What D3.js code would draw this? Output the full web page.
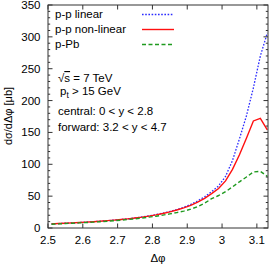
<!DOCTYPE html>
<html><head><meta charset="utf-8">
<script src="https://cdn.jsdelivr.net/npm/d3@7"></script>
<style>body{margin:0;background:#fff}svg{display:block}text{font-family:"Liberation Sans",Arial,sans-serif;fill:#000}</style>
</head><body><svg id="c" width="271" height="266"></svg>
<script>
const phi = [2.51,2.53,2.55,2.57,2.59,2.61,2.63,2.65,2.67,2.69,2.71,2.73,2.75,2.77,2.79,2.81,2.83,2.85,2.87,2.89,2.91,2.93,2.95,2.97,2.99,3.01,3.03,3.05,3.07,3.09,3.11,3.13];
const ppLinear = [6.5,7.0,7.5,8.0,8.6,9.2,9.9,10.7,11.5,12.4,13.4,14.5,15.8,17.3,19.0,21.0,23.3,26.0,29.0,32.5,37,42.5,49,57,66,81,106,140,176,220,270,306];
const ppNonLinear = [6.5,7.0,7.5,8.0,8.6,9.2,9.9,10.7,11.5,12.4,13.3,14.4,15.6,17.0,18.7,20.6,22.8,25.4,28.3,31.5,35.5,40.5,46.5,54,62,74,92,115,141,168,172,154];
const pPb = [6.0,6.5,7.0,7.5,8.0,8.6,9.2,9.9,10.6,11.4,12.3,13.3,14.4,15.6,17.0,18.5,20.2,22.1,24.2,26.5,29.5,33.5,39,46,51,57,64.5,72.5,80,88,89,81];
const seriesNames = ["p-p linear","p-p non-linear","p-Pb"];
const xTicks = [2.5,2.6,2.7,2.8,2.9,3.0,3.1];
const xTickLabels = ["2.5","2.6","2.7","2.8","2.9","3","3.1"];
const yTicks = [0,50,100,150,200,250,300,350];
const annotations = ["= 7 TeV","> 15 GeV","central: 0 < y < 2.8","forward: 3.2 < y < 4.7"];

const svg = d3.select("#c");
const L=48, R=268, T=5, B=228;
const x = d3.scaleLinear().domain([2.5,3.132]).range([L,R]);
const y = d3.scaleLinear().domain([0,350]).range([B,T]);
const frame = "#333";

// curves
const styles = [
  {data:ppLinear, color:"#2b2bff", dash:"1.6,1.6", w:1.3},
  {data:ppNonLinear, color:"#ff1010", dash:null, w:1.4},
  {data:pPb, color:"#1f9a1f", dash:"4,2.5", w:1.4}
];
const line = d3.line().x(d=>x(d[0])).y(d=>y(d[1]));
const g = svg.append("g");
g.append("clipPath").attr("id","cp").append("rect").attr("x",L).attr("y",T).attr("width",R-L).attr("height",B-T);
styles.forEach(s=>{
  g.append("path").attr("clip-path","url(#cp)")
   .attr("d", line(phi.map((p,i)=>[p,s.data[i]])))
   .attr("fill","none").attr("stroke",s.color).attr("stroke-width",s.w)
   .attr("stroke-dasharray",s.dash);
});

// axes
const ax = svg.append("g").attr("stroke",frame).attr("fill","none");
ax.append("rect").attr("x",L).attr("y",T).attr("width",R-L).attr("height",B-T).attr("stroke-width",1);
xTicks.forEach(t=>{
  ax.append("line").attr("x1",x(t)).attr("x2",x(t)).attr("y1",B).attr("y2",B-4.5);
  ax.append("line").attr("x1",x(t)).attr("x2",x(t)).attr("y1",T).attr("y2",T+4.5);
});
d3.range(0,351,10).forEach(v=>{
  const len = v%50===0 ? 4.5 : 2.2;
  ax.append("line").attr("x1",L).attr("x2",L+len).attr("y1",y(v)).attr("y2",y(v));
  ax.append("line").attr("x1",R).attr("x2",R-len).attr("y1",y(v)).attr("y2",y(v));
});
svg.selectAll(".xl").data(xTicks).enter().append("text")
  .attr("x",d=>x(d)).attr("y",244).attr("text-anchor","middle").attr("font-size",11.5)
  .text((d,i)=>xTickLabels[i]);
svg.selectAll(".yl").data(yTicks).enter().append("text")
  .attr("x",40.5).attr("y",d=>y(d)+4).attr("text-anchor","end").attr("font-size",11.5)
  .text(d=>d);
svg.append("text").attr("x",158).attr("y",262).attr("text-anchor","middle").attr("font-size",11.5).text("Δφ");
svg.append("text").attr("transform","translate(12,116) rotate(-90)").attr("text-anchor","middle")
  .attr("font-size",11).text("dσ/dΔφ [μb]");

// legend
seriesNames.forEach((n,i)=>{
  const yy = 18 + i*15;
  svg.append("text").attr("x",55).attr("y",yy).attr("font-size",11.5).text(n);
  svg.append("line").attr("x1",142).attr("x2",174).attr("y1",yy-3.5).attr("y2",yy-3.5)
    .attr("stroke",styles[i].color).attr("stroke-width",styles[i].w).attr("stroke-dasharray",styles[i].dash);
});

// annotations
const a1 = svg.append("text").attr("x",58).attr("y",82).attr("font-size",11.5);
a1.append("tspan").text("√");
a1.append("tspan").attr("text-decoration","overline").text("s");
a1.append("tspan").text(" "+annotations[0]);
const a2 = svg.append("text").attr("x",60).attr("y",95).attr("font-size",11.5);
a2.append("tspan").text("p");
a2.append("tspan").attr("font-size",8.5).attr("dy",3).text("t");
a2.append("tspan").attr("dy",-3).text(" "+annotations[1]);
svg.append("text").attr("x",58).attr("y",115).attr("font-size",11.5).text(annotations[2]);
svg.append("text").attr("x",58).attr("y",131).attr("font-size",11.5).text(annotations[3]);
</script></body></html>
